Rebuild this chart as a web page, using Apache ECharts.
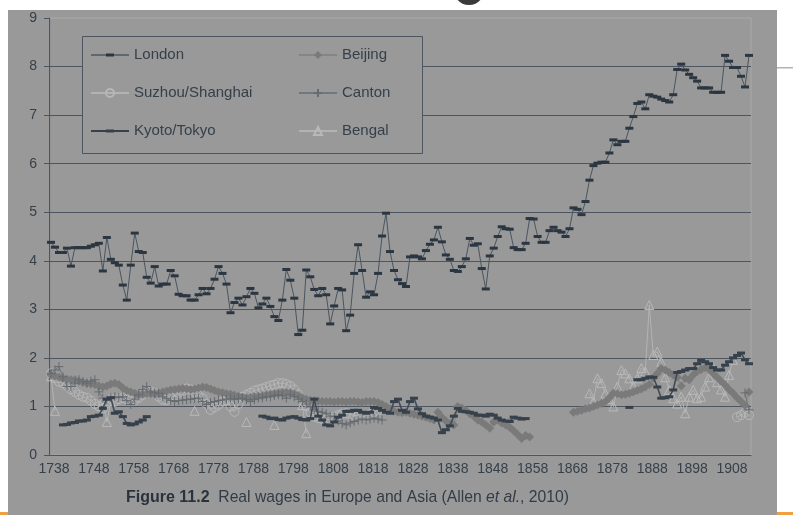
<!DOCTYPE html>
<html>
<head>
<meta charset="UTF-8">
<title>Real wages in Europe and Asia</title>
<script src="https://cdn.jsdelivr.net/npm/echarts@6/dist/echarts.min.js"></script>
<style>
  html, body { margin: 0; padding: 0; background: #fff; }
  #main { width: 793px; height: 515px; }
</style>
</head>
<body>
<div id="main"></div>
<script>
// categories
var firstYear = 1738, lastYear = 1913;
var years = [];
for (var y = firstYear; y <= lastYear; y++) years.push(String(y));

// London, every year 1738-1913
var london = [
  4.38, 4.28, 4.17, 4.17, 4.26, 3.89, 4.27, 4.27, 4.27, 4.27,
  4.30, 4.33, 4.36, 3.79, 4.48, 4.03, 3.96, 3.91, 3.50, 3.19,
  3.91, 4.57, 4.19, 4.17, 3.66, 3.54, 3.88, 3.48, 3.52, 3.52,
  3.80, 3.69, 3.31, 3.28, 3.28, 3.19, 3.19, 3.30, 3.43, 3.32,
  3.43, 3.62, 3.88, 3.74, 3.52, 2.93, 3.14, 3.23, 3.09, 3.26,
  3.43, 3.33, 3.03, 3.11, 3.23, 3.06, 2.85, 2.77, 3.19, 3.82,
  3.60, 3.23, 2.48, 2.57, 3.81, 3.67, 3.41, 3.28, 3.43, 3.30,
  2.70, 3.07, 3.43, 3.40, 2.56, 2.88, 3.74, 4.33, 3.80, 3.25,
  3.36, 3.30, 3.74, 4.51, 4.98, 4.19, 3.80, 3.61, 3.53, 3.47,
  4.08, 4.10, 4.08, 4.04, 4.21, 4.34, 4.43, 4.69, 4.39, 4.12,
  4.03, 3.80, 3.78, 3.88, 4.04, 4.46, 4.32, 4.35, 3.84, 3.42,
  4.10, 4.26, 4.50, 4.70, 4.66, 4.65, 4.27, 4.23, 4.23, 4.36,
  4.87, 4.86, 4.50, 4.38, 4.38, 4.62, 4.69, 4.62, 4.59, 4.50,
  4.66, 5.09, 5.06, 4.95, 5.22, 5.66, 5.96, 6.01, 6.03, 6.03,
  6.22, 6.49, 6.39, 6.46, 6.46, 6.73, 6.97, 7.24, 7.27, 7.13,
  7.42, 7.39, 7.37, 7.33, 7.30, 7.27, 7.42, 7.94, 8.05, 7.93,
  7.84, 7.77, 7.70, 7.56, 7.56, 7.56, 7.47, 7.47, 7.47, 8.23,
  8.11, 7.98, 7.98, 7.80, 7.58, 8.23
];

// Beijing
var beijingFrom1738 = [
  1.65, 1.62, 1.60, 1.58, 1.56, 1.55, 1.55, 1.52, 1.50, 1.48,
  1.46, 1.45, 1.42, 1.40, 1.42, 1.46, 1.48, 1.45, 1.38, 1.33,
  1.30, 1.27, 1.24, 1.25, 1.26, 1.26, 1.25, 1.27, 1.30, 1.32,
  1.34, 1.35, 1.36, 1.37, 1.36, 1.35, 1.36, 1.38, 1.40, 1.39,
  1.36, 1.33, 1.30, 1.28, 1.26, 1.25, 1.23, 1.21, 1.19, 1.18,
  1.19, 1.20, 1.21, 1.22, 1.24, 1.25, 1.26, 1.27, 1.28, 1.29,
  1.28, 1.26, 1.22, 1.18, 1.15, 1.13, 1.12, 1.11, 1.10, 1.10,
  1.10, 1.09, 1.10, 1.10, 1.09, 1.10, 1.10, 1.09, 1.08, 1.10,
  1.10, 1.10, 1.08, 1.04, 1.00, 0.95, 0.90, 0.88, 0.87, 0.88,
  0.86, 0.84, 0.82, 0.80, 0.78, 0.75, 0.72, 0.88, 0.78, 0.70,
  0.65, 0.62, 1.00, 0.97, 0.92, 0.85, 0.80, 0.72, 0.68, 0.62,
  0.55, 0.68, 0.72, 0.66, 0.62, 0.57, 0.50, 0.42, 0.34, 0.40,
  0.37
];
var beijingFrom1869 = [
  0.88, 0.90, 0.92, 0.95, 0.97, 1.00, 1.03, 1.06, 1.10, 1.18,
  1.27, 1.26, 1.24, 1.25, 1.27, 1.30, 1.33, 1.36, 1.40, 1.45,
  1.58, 1.68, 1.78, 1.75, 1.70, 1.65, 1.60, 1.42, 1.58, 1.55,
  1.65, 1.72, 1.76, 1.80, 1.76, 1.68, 1.60, 1.52, 1.44, 1.35,
  1.27, 1.18, 1.10, 1.02, 1.30
];

// Suzhou/Shanghai
var suzhouFrom1738 = [
  1.68, 1.58, 1.51, 1.48, 1.42, 1.35, 1.30, 1.24, 1.20, 1.18,
  1.12, 1.05, 1.00, 0.96, 1.07, 1.15, 1.10, 1.15, 1.18, 1.15,
  1.12, 1.13, 1.18, 1.24, 1.28, 1.31, 1.28, 1.20, 1.14, 1.13,
  1.18, 1.22, 1.28, 1.32, 1.37, 1.35, 1.30, 1.22, 1.17, 1.05,
  0.93, 0.98, 1.03, 1.10, 1.13, 1.00, 0.89, 1.05, 1.20, 1.24,
  1.28, 1.33, 1.35, 1.37, 1.40, 1.43, 1.45, 1.48, 1.48, 1.46,
  1.42, 1.35, 1.25, 1.12, 1.00, 0.88, 0.79, 0.76, 0.74, 0.72,
  0.74, 0.79, 0.82, 0.85, 0.86, 0.84, 0.82, 0.80, 0.80, 0.79,
  0.84, 0.89, 0.92
];
var suzhouFrom1910 = [0.78, 0.82, 0.88, 0.82];

// Canton
var cantonFrom1738 = [
  1.68, 1.75, 1.82, 1.61, 1.41, 1.41, 1.48, 1.55, 1.51, 1.48,
  1.52, 1.55, 1.30, 1.17, 1.13, 1.18, 1.20, 1.18, 1.20, 1.12,
  1.04, 1.15, 1.24, 1.35, 1.41, 1.30, 1.28, 1.27, 1.20, 1.16,
  1.12, 1.10, 1.12, 1.13, 1.14, 1.15, 1.16, 1.17, 1.10, 1.04,
  1.08, 1.10, 1.12, 1.13, 1.15, 1.17, 1.14, 1.16, 1.17, 1.14,
  1.10, 1.14, 1.17, 1.18, 1.20, 1.20, 1.22, 1.24, 1.22, 1.17,
  1.24, 1.20, 1.15, 1.10, 1.05, 0.99, 0.94, 0.90, 0.88, 0.85,
  0.80, 0.79, 0.70, 0.65, 0.62, 0.66, 0.69, 0.72, 0.74, 0.72,
  0.74, 0.76, 0.74, 0.72
];
var cantonFrom1912 = [1.28, 0.93];

// Kyoto/Tokyo
var kyotoFrom1741 = [
  0.62, 0.63, 0.66, 0.67, 0.70, 0.70, 0.72, 0.79, 0.80, 0.82,
  0.96, 1.15, 1.18, 0.86, 0.89, 0.79, 0.65, 0.62, 0.64, 0.68,
  0.72, 0.79
];
var kyotoFrom1791 = [
  0.80, 0.78, 0.75, 0.76, 0.73, 0.72, 0.76, 0.78, 0.79, 0.76,
  0.73, 0.72, 0.75, 1.15, 0.80, 0.72, 0.62, 0.60, 0.68, 0.78,
  0.82, 0.90, 0.90, 0.92, 0.92, 0.88, 0.86, 0.88, 0.98, 0.96,
  0.92, 0.88, 0.86, 1.10, 1.15, 0.92, 0.88, 1.10, 1.17, 0.95,
  0.85, 0.80, 0.78, 0.76, 0.72, 0.46, 0.52, 0.60, 0.80, 0.96,
  0.90, 0.89, 0.88, 0.86, 0.82, 0.82, 0.80, 0.84, 0.82, 0.76,
  0.72, 0.70, 0.69, 0.78, 0.76, 0.74, 0.75
];
var kyotoIn1883 = [0.98];
var kyotoFrom1885 = [
  1.55, 1.55, 1.58, 1.61, 1.60, 1.40, 1.17, 1.18, 1.20, 1.34,
  1.70, 1.72, 1.75, 1.78, 1.78, 1.88, 1.95, 1.92, 1.88, 1.80,
  1.75, 1.75, 1.85, 1.92, 2.00, 2.05, 2.10, 1.96, 1.88
];

// Bengal
var bengalFrom1738 = [1.62, 0.91];
var bengalFrom1751 = [1.12, 0.68, 1.10];
var bengalIn1774 = [0.91];
var bengalIn1787 = [0.68];
var bengalIn1794 = [0.62];
var bengalFrom1801 = [1.03, 0.45];
var bengalFrom1873 = [
  1.27, 1.10, 1.58, 1.48, 1.27, 1.15, 1.00, 1.41, 1.75, 1.68,
  1.58, 1.42, 1.58, 1.79, 1.72, 3.09, 2.06, 2.13, 1.92, 1.60,
  1.34, 1.17, 1.06, 1.20, 0.86, 1.20, 1.34, 1.17, 1.20, 1.41,
  1.60, 1.81, 1.50, 1.35, 1.20, 1.65, 1.96
];

// place pieces on the full year axis, gaps stay null
function onYears(parts) {
  var out = years.map(function () { return null; });
  parts.forEach(function (p) {
    var start = p[0] - firstYear;
    p[1].forEach(function (v, k) { out[start + k] = v; });
  });
  return out;
}

var ink = '#36404a';
var gridInk = '#4d5660';
var panel = '#999999';
var font = 'Liberation Sans, Arial, sans-serif';

var chart = echarts.init(document.getElementById('main'));

function lineSeries(name, data, sym, size, item, line, z) {
  return {
    name: name,
    type: 'line',
    data: data,
    symbol: sym,
    symbolSize: size,
    showAllSymbol: true,
    connectNulls: false,
    itemStyle: item,
    lineStyle: line,
    emphasis: { disabled: true },
    z: z
  };
}

var plusPath = 'path://M0,5L10,5M5,0L5,10';

var option = {
  backgroundColor: panel,
  animation: false,
  grid: { left: 49, right: 42, top: 18, bottom: 60, containLabel: false,
          show: true, borderColor: '#a9a9a9', borderWidth: 1, backgroundColor: 'transparent' },
  xAxis: {
    type: 'category',
    data: years,
    boundaryGap: true,
    axisLine: { lineStyle: { color: gridInk, width: 1.2 } },
    axisTick: { interval: 0, length: 5, lineStyle: { color: gridInk } },
    axisLabel: { interval: 9, color: ink, fontSize: 14, fontFamily: font, margin: 7, padding: [0, 0, 0, 6] },
    splitLine: { show: false }
  },
  yAxis: {
    type: 'value',
    min: 0, max: 9, interval: 1,
    axisLine: { show: true, lineStyle: { color: gridInk, width: 1.2 } },
    axisTick: { show: true, length: 5, lineStyle: { color: gridInk } },
    axisLabel: { color: ink, fontSize: 14, fontFamily: font, margin: 12 },
    splitLine: { show: true, showMaxLine: false, lineStyle: { color: gridInk, width: 1.2 } }
  },
  legend: [
    {
      orient: 'vertical', left: 85, top: 42, itemWidth: 38, itemHeight: 10, itemGap: 22,
      textStyle: { color: ink, fontSize: 15, fontFamily: font, lineHeight: 16 },
      data: [
        { name: 'London', icon: 'path://M0,3.5L38,3.5L38,4.5L0,4.5Z M15,2.5L23,2.5L23,5.5L15,5.5Z' },
        'Suzhou/Shanghai',
        { name: 'Kyoto/Tokyo', icon: 'path://M0,3L38,3L38,5L0,5Z M15,2.5L23,2.5L23,5.5L15,5.5Z' }
      ]
    },
    {
      orient: 'vertical', left: 293, top: 42, itemWidth: 38, itemHeight: 10, itemGap: 22,
      textStyle: { color: ink, fontSize: 15, fontFamily: font, lineHeight: 16 },
      data: ['Beijing', 'Canton', 'Bengal']
    }
  ],
  graphic: [
    { type: 'rect', z: 3, shape: { x: 82.5, y: 36.5, width: 340, height: 117 },
      style: { fill: panel, stroke: gridInk, lineWidth: 1 } },
    { type: 'text', z: 5, left: 126, top: 490,
      style: {
        text: '{b|Figure 11.2}  Real wages in Europe and Asia (Allen {i|et al.}, 2010)',
        fill: '#323c46', font: '15.7px ' + font,
        rich: {
          b: { fontWeight: 'bold', fontSize: 16, fontFamily: font, fill: '#2a333c' },
          i: { fontStyle: 'italic', fontSize: 15.7, fontFamily: font, fill: '#323c46' }
        }
      } },
    // scan edges
    { type: 'rect', z: 20, shape: { x: 0, y: 0, width: 793, height: 10 }, style: { fill: '#fff' } },
    { type: 'rect', z: 20, shape: { x: 0, y: 0, width: 8, height: 515 }, style: { fill: '#fff' } },
    { type: 'rect', z: 20, shape: { x: 777, y: 0, width: 16, height: 515 }, style: { fill: '#fff' } },
    { type: 'rect', z: 21, shape: { x: 777, y: 67, width: 16, height: 1.5 }, style: { fill: '#b3b3b3' } },
    { type: 'rect', z: 21, shape: { x: 0, y: 512, width: 8, height: 3 }, style: { fill: '#f0a040' } },
    { type: 'rect', z: 21, shape: { x: 777, y: 512, width: 16, height: 3 }, style: { fill: '#f0a040' } },
    { type: 'ellipse', z: 21, shape: { cx: 469, cy: -7, rx: 14, ry: 12 }, style: { fill: '#3a3a3a' } }
  ],
  series: [
    lineSeries('Bengal',
      onYears([[1738, bengalFrom1738], [1751, bengalFrom1751], [1774, bengalIn1774], [1787, bengalIn1787],
               [1794, bengalIn1794], [1801, bengalFrom1801], [1873, bengalFrom1873]]),
      'triangle', 9,
      { color: 'rgba(0,0,0,0)', borderColor: '#b9b9b9', borderWidth: 1 },
      { color: '#b3b3b3', width: 1 }, 2),
    lineSeries('Suzhou/Shanghai',
      onYears([[1738, suzhouFrom1738], [1910, suzhouFrom1910]]),
      'circle', 9,
      { color: 'rgba(0,0,0,0)', borderColor: '#b7b7b7', borderWidth: 1 },
      { color: '#b3b3b3', width: 1 }, 2),
    lineSeries('Beijing',
      onYears([[1738, beijingFrom1738], [1869, beijingFrom1869]]),
      'diamond', 9,
      { color: '#7a7a7a' },
      { color: '#858585', width: 1 }, 3),
    lineSeries('Canton',
      onYears([[1738, cantonFrom1738], [1912, cantonFrom1912]]),
      plusPath, 9,
      { color: 'rgba(0,0,0,0)', borderColor: '#666b70', borderWidth: 1 },
      { color: '#72777b', width: 1 }, 3),
    lineSeries('Kyoto/Tokyo',
      onYears([[1741, kyotoFrom1741], [1791, kyotoFrom1791], [1883, kyotoIn1883], [1885, kyotoFrom1885]]),
      'rect', [8, 3],
      { color: '#36414b' },
      { color: '#404b56', width: 1.6 }, 4),
    lineSeries('London', london, 'rect', [8, 3],
      { color: '#2b3640' },
      { color: '#4a5560', width: 1 }, 4)
  ]
};

chart.setOption(option);
</script>
</body>
</html>
